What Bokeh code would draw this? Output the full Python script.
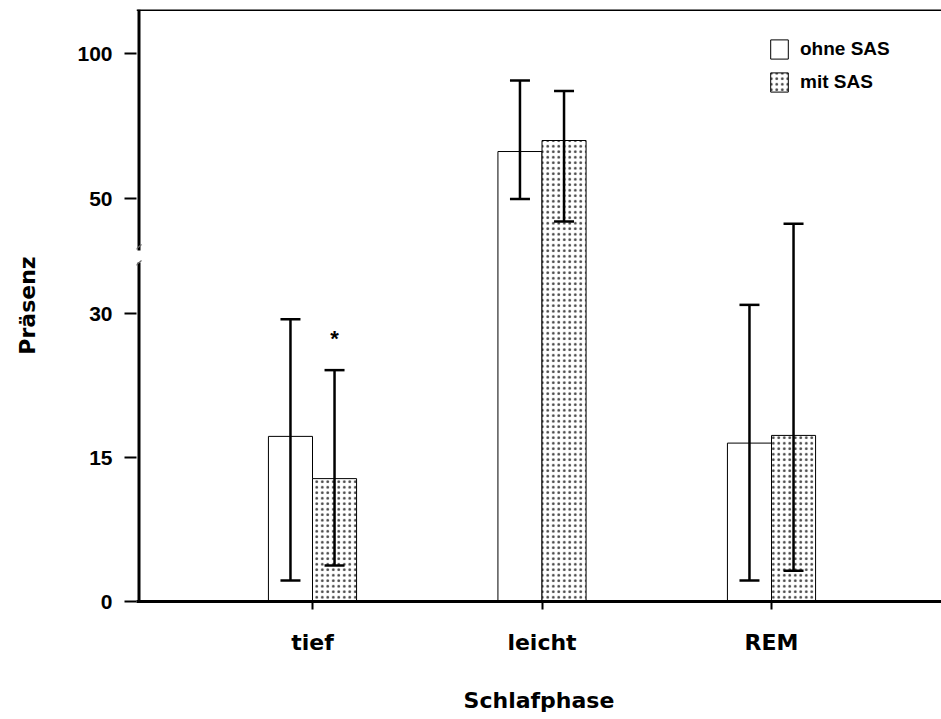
from bokeh.plotting import figure
from bokeh.models import (ColumnDataSource, FixedTicker, Whisker, TeeHead, Span,
                          Legend, LegendItem, Range1d)
from bokeh.embed import file_html
from bokeh.resources import INLINE
from bokeh.core.properties import value

# ---------------- data ----------------
categories = ["tief", "leicht", "REM"]
series = ["ohne SAS", "mit SAS"]
ohne_mean = [17.2, 66.2, 16.5]
ohne_low = [2.2, 49.8, 2.2]
ohne_high = [29.4, 90.7, 30.9]
mit_mean = [12.8, 70.0, 17.3]
mit_low = [3.75, 42.1, 3.2]
mit_high = [24.1, 87.1, 41.3]
y_tick_values = [0, 15, 30, 50, 100]
star_category = "tief"
star_value = 27.4

# ---------------- broken axis transform ----------------
PX_LOW = 9.6      # px per unit below the break
PX_HIGH = 2.9     # px per unit above the break
BREAK_AT = 35.0
T50 = 403.0 / PX_LOW
RATIO = PX_HIGH / PX_LOW


def to_t(v):
    return v if v <= BREAK_AT else T50 + (v - 50.0) * RATIO


def px_to_t(py):          # canvas pixel row -> transformed y
    return (601 - py) / PX_LOW


FONT = "Liberation Sans"
WIDE = "DejaVu Sans"
BAR_W = 0.192
PX_X = 229.5              # px per category step
FRAME_LEFT = 136


def px_to_x(px):          # canvas pixel column -> x data
    return 1 - (312 - px) / PX_X


xpos = [i + 1 for i in range(len(categories))]
x_ohne = [x - BAR_W / 2 for x in xpos]
x_mit = [x + BAR_W / 2 for x in xpos]

src_ohne = ColumnDataSource(dict(x=x_ohne, top=[to_t(v) for v in ohne_mean],
                                 lo=[to_t(v) for v in ohne_low], hi=[to_t(v) for v in ohne_high]))
src_mit = ColumnDataSource(dict(x=x_mit, top=[to_t(v) for v in mit_mean],
                                lo=[to_t(v) for v in mit_low], hi=[to_t(v) for v in mit_high]))

y_end = px_to_t(9)
p = figure(width=941, height=719, output_backend="svg", toolbar_location=None,
           x_range=Range1d(px_to_x(FRAME_LEFT), px_to_x(941)), y_range=Range1d(0, y_end),
           min_border_left=FRAME_LEFT, min_border_right=0, min_border_top=9, min_border_bottom=118)
p.outline_line_color = None
p.grid.visible = False
p.background_fill_color = "white"

r1 = p.vbar(x="x", top="top", bottom=0, width=BAR_W, source=src_ohne,
            fill_color="white", line_color="black", line_width=1)
r2 = p.vbar(x="x", top="top", bottom=0, width=BAR_W, source=src_mit,
            fill_color="white", line_color="black", line_width=1,
            hatch_pattern="dot", hatch_scale=5.5, hatch_weight=0.8, hatch_color="#444444")

for src in (src_ohne, src_mit):
    w = Whisker(base="x", lower="lo", upper="hi", source=src, line_width=2.5, line_color="black",
                level="overlay",
                upper_head=TeeHead(size=20, line_width=2.5, line_color="black"),
                lower_head=TeeHead(size=20, line_width=2.5, line_color="black"))
    p.add_layout(w)

# significance star
si = categories.index(star_category)
p.text(x=[x_mit[si]], y=[to_t(star_value)], text=["*"], text_font=value(FONT),
       text_font_style="bold", text_font_size="22px", text_align="center",
       text_baseline="middle", text_color="black")

# broken y axis line (drawn by hand) with break marks
ax_x = px_to_x(138.5)
p.segment(x0=[ax_x, ax_x], y0=[0, px_to_t(250)], x1=[ax_x, ax_x], y1=[px_to_t(262), y_end],
          line_color="black", line_width=3)
p.segment(x0=[px_to_x(133), px_to_x(133)], y0=[px_to_t(251), px_to_t(267)],
          x1=[px_to_x(141), px_to_x(141)], y1=[px_to_t(244), px_to_t(260)],
          line_color="#666666", line_width=1.2)

# axes
xa = p.xaxis[0]
xa.ticker = FixedTicker(ticks=xpos)
xa.major_label_overrides = {x: c for x, c in zip(xpos, categories)}
xa.axis_line_width = 3
xa.axis_line_color = "black"
xa.major_tick_line_width = 2
xa.major_tick_out = 8
xa.major_tick_in = 0
xa.minor_tick_line_color = None
xa.major_label_text_font = WIDE
xa.major_label_text_font_style = "bold"
xa.major_label_text_font_size = "22px"
xa.major_label_text_color = "black"
xa.major_label_standoff = 20
xa.axis_label = "Schlafphase"
xa.axis_label_text_font = WIDE
xa.axis_label_text_font_style = "bold"
xa.axis_label_text_font_size = "22px"
xa.axis_label_text_color = "black"
xa.axis_label_standoff = 30

ya = p.yaxis[0]
ticks_t = [to_t(v) for v in y_tick_values]
ya.ticker = FixedTicker(ticks=ticks_t)
ya.major_label_overrides = {t: str(v) for t, v in zip(ticks_t, y_tick_values)}
ya.axis_line_color = None
ya.major_tick_line_width = 2
ya.major_tick_out = 12
ya.major_tick_in = 0
ya.minor_tick_line_color = None
ya.major_label_text_font = FONT
ya.major_label_text_font_style = "bold"
ya.major_label_text_font_size = "21px"
ya.major_label_text_color = "black"
ya.major_label_standoff = 12
ya.axis_label = "Präsenz"
ya.axis_label_text_font = WIDE
ya.axis_label_text_font_style = "bold"
ya.axis_label_text_font_size = "22px"
ya.axis_label_text_color = "black"
ya.axis_label_standoff = 34

# top frame line
p.add_layout(Span(location=y_end, dimension="width", line_color="black", line_width=3))

legend = Legend(items=[LegendItem(label=series[0], renderers=[r1]),
                       LegendItem(label=series[1], renderers=[r2])],
                location=(632, 507), orientation="vertical",
                glyph_width=22, glyph_height=24, label_height=24,
                label_text_font=FONT, label_text_font_style="bold", label_text_font_size="19px",
                label_text_color="black",
                label_standoff=10, spacing=9, padding=0, margin=0,
                border_line_color=None, background_fill_alpha=0)
p.add_layout(legend)

open("out.html", "w").write(file_html(p, INLINE))
